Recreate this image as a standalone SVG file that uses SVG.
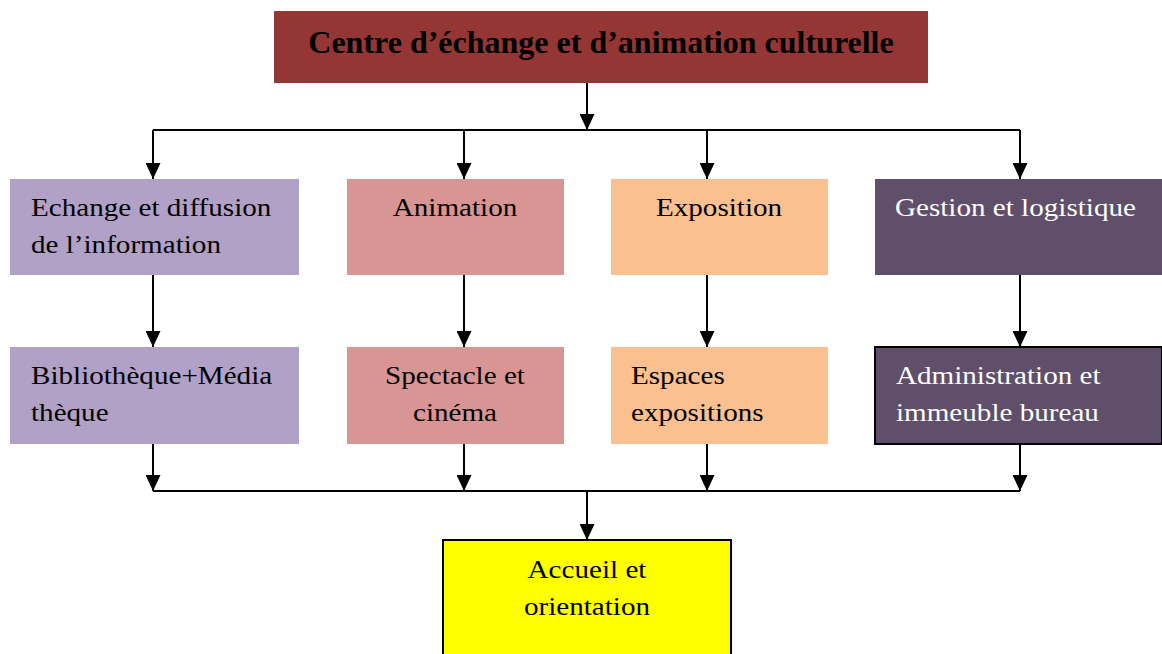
<svg xmlns="http://www.w3.org/2000/svg" width="1162" height="654" viewBox="0 0 1162 654">
<style>
text{font-family:'Liberation Serif','Times New Roman',Times,serif;font-size:26px;fill:#000}
.w{fill:#fff}
.c{text-anchor:middle}
.ln{stroke:#000;stroke-width:2;fill:none}
</style>
<defs>
<marker id="a" markerWidth="16" markerHeight="15" refX="16" refY="7.5" orient="auto" markerUnits="userSpaceOnUse" viewBox="0 0 16 15">
<path d="M0,0 L16,7.5 L0,15 Z" fill="#000"/>
</marker>
</defs>
<rect width="1162" height="654" fill="#fff"/>
<g id="connectors">
<path class="ln" d="M587,83 V130" marker-end="url(#a)"/>
<path class="ln" d="M153,130 H1020"/>
<path class="ln" d="M153,130 V179" marker-end="url(#a)"/>
<path class="ln" d="M464,130 V179" marker-end="url(#a)"/>
<path class="ln" d="M707,130 V179" marker-end="url(#a)"/>
<path class="ln" d="M1020,130 V179" marker-end="url(#a)"/>
<path class="ln" d="M153,275 V347" marker-end="url(#a)"/>
<path class="ln" d="M464,275 V347" marker-end="url(#a)"/>
<path class="ln" d="M707,275 V347" marker-end="url(#a)"/>
<path class="ln" d="M1020,275 V347" marker-end="url(#a)"/>
<path class="ln" d="M153,444 V491" marker-end="url(#a)"/>
<path class="ln" d="M464,444 V491" marker-end="url(#a)"/>
<path class="ln" d="M707,444 V491" marker-end="url(#a)"/>
<path class="ln" d="M1020,444 V491" marker-end="url(#a)"/>
<path class="ln" d="M153,491 H1020"/>
<path class="ln" d="M587,491 V540" marker-end="url(#a)"/>
</g>
<g id="top">
<rect x="274" y="11" width="654" height="72" fill="#943634"/>
<text class="c" x="601" y="53" style="font-weight:bold;font-size:32px">Centre d’échange et d’animation culturelle</text>
</g>
<g id="echange">
<rect x="10" y="179" width="289" height="96" fill="#B2A1C7"/>
<text transform="translate(31,216) scale(1.12,1)">Echange et diffusion</text>
<text transform="translate(31,253) scale(1.12,1)">de l’information</text>
</g>
<g id="animation">
<rect x="347" y="179" width="217" height="96" fill="#D99594"/>
<text class="c" transform="translate(455,216) scale(1.12,1)">Animation</text>
</g>
<g id="exposition">
<rect x="611" y="179" width="217" height="96" fill="#FAC090"/>
<text class="c" transform="translate(719,216) scale(1.12,1)">Exposition</text>
</g>
<g id="gestion">
<rect x="875" y="179" width="287" height="96" fill="#5F4F6A"/>
<text class="w" transform="translate(895,216) scale(1.12,1)">Gestion et logistique</text>
</g>
<g id="bibliotheque">
<rect x="10" y="347" width="289" height="97" fill="#B2A1C7"/>
<text transform="translate(31,384) scale(1.12,1)">Bibliothèque+Média</text>
<text transform="translate(31,421) scale(1.12,1)">thèque</text>
</g>
<g id="spectacle">
<rect x="347" y="347" width="217" height="97" fill="#D99594"/>
<text class="c" transform="translate(455,384) scale(1.12,1)">Spectacle et</text>
<text class="c" transform="translate(455,421) scale(1.12,1)">cinéma</text>
</g>
<g id="espaces">
<rect x="611" y="347" width="217" height="97" fill="#FAC090"/>
<text transform="translate(631,384) scale(1.12,1)">Espaces</text>
<text transform="translate(631,421) scale(1.12,1)">expositions</text>
</g>
<g id="administration">
<rect x="875" y="347" width="287" height="97" fill="#5F4F6A" stroke="#000" stroke-width="2"/>
<text class="w" transform="translate(896,384) scale(1.12,1)">Administration et</text>
<text class="w" transform="translate(896,421) scale(1.12,1)">immeuble bureau</text>
</g>
<g id="accueil">
<rect x="443" y="540" width="288" height="120" fill="#FFFF00" stroke="#000" stroke-width="2"/>
<text class="c" transform="translate(587,578) scale(1.12,1)">Accueil et</text>
<text class="c" transform="translate(587,615) scale(1.12,1)">orientation</text>
</g>
</svg>
